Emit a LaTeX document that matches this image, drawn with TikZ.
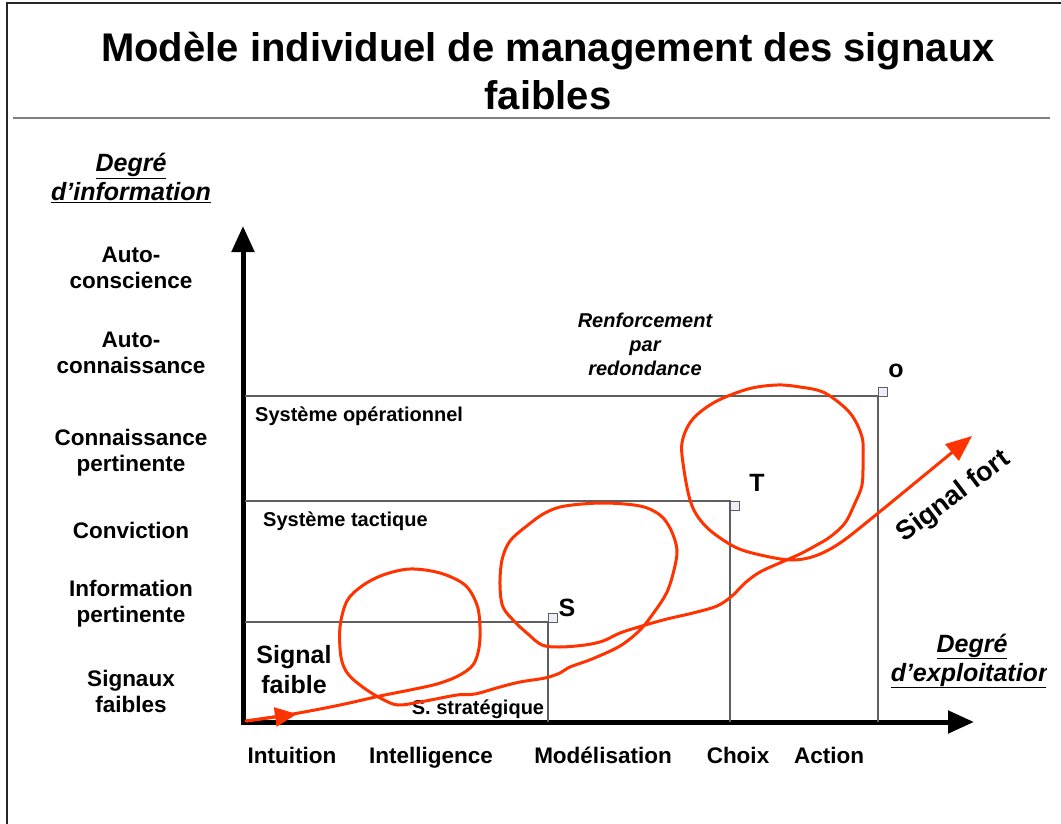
\documentclass[tikz,border=0pt]{standalone}
\usepackage{fontspec}
\setmainfont{Liberation Sans}
\usetikzlibrary{arrows.meta}
\definecolor{sigred}{RGB}{255,51,0}
\definecolor{gridgray}{RGB}{95,95,95}
\definecolor{boxfill}{RGB}{236,238,250}

\begin{document}
\begin{tikzpicture}[x=1pt,y=-1pt,
    title/.style={font=\fontsize{40}{48}\selectfont\bfseries,align=center},
    lvl/.style={font=\fontsize{22.5}{26}\selectfont\bfseries,align=center},
    phase/.style={font=\fontsize{22.5}{26}\selectfont\bfseries,anchor=base,inner sep=0pt},
    axname/.style={font=\fontsize{25}{29}\selectfont\bfseries\itshape,align=center},
    syslab/.style={font=\fontsize{20}{24}\selectfont\bfseries,inner sep=0pt},
    corner/.style={font=\fontsize{25}{30}\selectfont\bfseries,inner sep=0pt},
    axis/.style={line width=5pt,{Triangle[length=26pt,width=22pt]}-{Triangle[length=26pt,width=22pt]}},
    level/.style={gridgray,line width=1.3pt},
    mark box/.style={gridgray,fill=boxfill,line width=0.8pt},
    signal/.style={sigred,line width=3pt,line cap=round,line join=round}]
  \useasboundingbox (0,0) rectangle (1061,824);

  \draw[gray!30!black,line width=2pt] (7,824) -- (7,3) -- (1061,3);
  \draw[gray,line width=2pt] (13,118) -- (1050,118);
  \node[title] (head) at (548,71) {Modèle individuel de management des signaux\\faibles};

  % axes
  \coordinate (orig) at (243,722);
  \coordinate (ytip) at (243,226);
  \coordinate (xtip) at (974,722);
  \draw[axis] (ytip) -- (orig) -- (xtip);

  \coordinate (cS) at (548,622);
  \coordinate (cT) at (730,501);
  \coordinate (cO) at (878,396);
  \draw[level] ([xshift=2pt]orig |- cS) -- (cS) -- (cS |- orig);
  \draw[level] ([xshift=2pt]orig |- cT) -- (cT) -- (cT |- orig);
  \draw[level] ([xshift=2pt]orig |- cO) -- (cO) -- (cO |- orig);
  \draw[mark box] (cS) rectangle ++(9,-9);
  \draw[mark box] (cT) rectangle ++(9,9);
  \draw[mark box] (cO) rectangle ++(9,-9);
  \node[corner] (S) at (567,608) {S};
  \node[corner] (T) at (757,483) {T};
  \node[corner] (O) at (896,371) {o};

  \node[axname] (yname) at (131,178) {\underline{Degré}\\\underline{d’information}};
  \node[lvl] (l6) at (131,268) {Auto-\\conscience};
  \node[lvl] (l5) at (131,353) {Auto-\\connaissance};
  \node[lvl] (l4) at (131,453) {Connaissance\\pertinente};
  \node[lvl] (l3) at (131,530) {Conviction};
  \node[lvl] (l2) at (131,604) {Information\\pertinente};
  \node[lvl] (l1) at (131,691) {Signaux\\faibles};

  \node[phase] (p1) at (292,763) {Intuition};
  \node[phase] (p2) at (431,763) {Intelligence};
  \node[phase] (p3) at (603,763) {Modélisation};
  \node[phase] (p4) at (738,763) {Choix};
  \node[phase] (p5) at (829,763) {Action};

  \begin{scope}
    \clip (850,600) rectangle (1046,700);
    \node[axname] (xname) at (972,661) {\underline{Degré}\\\underline{d’exploitation}};
  \end{scope}

  \node[syslab,anchor=base west] (sysop) at (255,421) {Système opérationnel};
  \node[syslab,anchor=base west] (systac) at (263,526) {Système tactique};
  \node[syslab,anchor=base] (sysstrat) at (478,714) {S. stratégique};
  \node[syslab,font=\fontsize{20}{24}\selectfont\bfseries\itshape,align=center] (renf) at (645,344) {Renforcement\\par\\redondance};
  \node[corner,align=center] (weak) at (294,670) {Signal\\faible};
  \node[corner,font=\fontsize{27}{30}\selectfont\bfseries,rotate=37] (strong) at (954,497) {Signal fort};

  % signal curve
  \draw[signal,-{Triangle[length=26pt,width=21pt]}] plot[smooth,tension=0.55] coordinates {
    (246,721) (293,714) (340,705) (380,696) (410,690) (437,684) (458,676) (473,665)
    (479,648) (480,627) (477,605) (465,585) (440,573) (410,569) (383,575) (362,586)
    (347,601) (340,627) (341,657) (348,674) (364,688) (382,699) (398,705) (420,702)
    (457,695) (475,694) (500,687) (520,682) (545,678) (560,673) (570,667) (592,659)
    (620,646) (640,630) (655,611) (667,592) (674,570) (677,550) (671,530) (660,515)
    (640,506) (603,503) (565,506) (545,513) (528,525) (510,541) (502,560) (500,585)
    (503,607) (515,622) (528,634) (542,645) (560,647) (585,645) (603,641) (620,633)
    (642,626) (667,619) (693,613) (717,606) (732,596) (745,583) (760,572) (782,562)
    (800,554) (815,546) (830,537) (845,523) (855,503) (862,485) (863,460) (862,437)
    (850,413) (825,393) (800,387) (777,385) (748,389) (715,402) (692,420) (682,443)
    (684,470) (690,500) (698,517) (712,532) (737,548) (765,556) (792,560) (815,556)
    (840,543) (877,514) (972,436)};
  \draw[signal,-{Triangle[length=22pt,width=19pt]}] (246,721) -- (297,714);
\end{tikzpicture}
\end{document}
